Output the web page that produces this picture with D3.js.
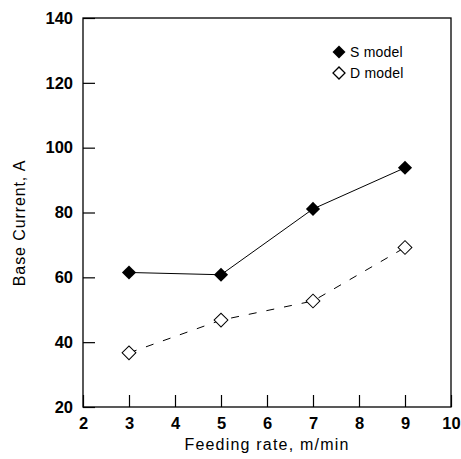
<!DOCTYPE html>
<html>
<head>
<meta charset="utf-8">
<script src="https://cdn.jsdelivr.net/npm/d3@7"></script>
<style>
  body { margin: 0; background: #fff; }
  text { font-family: Arial, "Liberation Sans", sans-serif; fill: #000; }
</style>
</head>
<body>
<script>
// data
const feedRate = [3, 5, 7, 9];
const sModel = [61.5, 60.8, 81.1, 93.8];
const dModel = [36.7, 46.8, 52.7, 69.2];
const xTicks = [2, 3, 4, 5, 6, 7, 8, 9, 10];
const yTicks = [20, 40, 60, 80, 100, 120, 140];

const w = 461, h = 459;
const plotL = 83, plotR = 451, plotT = 18, plotB = 407;

const svg = d3.select("body").append("svg")
  .attr("width", w).attr("height", h);

const x = d3.scaleLinear().domain([2, 10]).range([plotL, plotR]);
const y = d3.scaleLinear().domain([20, 140]).range([plotB, plotT]);

// frame
svg.append("rect")
  .attr("x", plotL).attr("y", plotT)
  .attr("width", plotR - plotL).attr("height", plotB - plotT)
  .attr("fill", "none").attr("stroke", "#000").attr("stroke-width", 1.3);

// axes, ticks inward
const xAxis = d3.axisBottom(x).tickValues(xTicks).tickSizeInner(-12).tickSizeOuter(0);
const yAxis = d3.axisLeft(y).tickValues(yTicks).tickSizeInner(-12).tickSizeOuter(0);

const gx = svg.append("g").attr("transform", `translate(0,${plotB})`).call(xAxis);
const gy = svg.append("g").attr("transform", `translate(${plotL},0)`).call(yAxis);
[gx, gy].forEach(g => {
  g.select(".domain").remove();
  g.selectAll(".tick line").attr("stroke", "#000").attr("stroke-width", 1.2);
  g.selectAll(".tick text")
    .style("font-size", "16.5px").style("font-weight", "bold")
    .attr("fill", "#000");
});
gx.selectAll(".tick text").attr("y", 10).attr("dy", "0.71em");
gy.selectAll(".tick text").attr("x", -10);

// axis titles
svg.append("text")
  .attr("x", (plotL + plotR) / 2).attr("y", 450)
  .attr("text-anchor", "middle")
  .style("font-size", "16px").style("letter-spacing", "1.2px")
  .text("Feeding rate, m/min");

svg.append("text")
  .attr("transform", `translate(25,223) rotate(-90)`)
  .attr("text-anchor", "middle")
  .style("font-size", "16px").style("letter-spacing", "0.9px")
  .text("Base Current, A");

// lines
const sPts = feedRate.map((d, i) => [d, sModel[i]]);
const dPts = feedRate.map((d, i) => [d, dModel[i]]);
const line = d3.line().x(d => x(d[0])).y(d => y(d[1]));

svg.append("path").datum(sPts).attr("d", line)
  .attr("fill", "none").attr("stroke", "#000").attr("stroke-width", 1);
svg.append("path").datum(dPts).attr("d", line)
  .attr("fill", "none").attr("stroke", "#000").attr("stroke-width", 1)
  .attr("stroke-dasharray", "8,10");

// markers
svg.selectAll(".s").data(sPts).join("path")
  .attr("transform", d => `translate(${x(d[0])},${y(d[1])}) rotate(45)`)
  .attr("d", d3.symbol().type(d3.symbolSquare).size(100))
  .attr("fill", "#000");
svg.selectAll(".d").data(dPts).join("path")
  .attr("transform", d => `translate(${x(d[0])},${y(d[1])}) rotate(45)`)
  .attr("d", d3.symbol().type(d3.symbolSquare).size(95))
  .attr("fill", "#fff").attr("stroke", "#000").attr("stroke-width", 1);

// legend
const legend = svg.append("g");
legend.append("path")
  .attr("transform", "translate(339,52) rotate(45)")
  .attr("d", d3.symbol().type(d3.symbolSquare).size(85))
  .attr("fill", "#000");
legend.append("path")
  .attr("transform", "translate(339,73) rotate(45)")
  .attr("d", d3.symbol().type(d3.symbolSquare).size(72))
  .attr("fill", "#fff").attr("stroke", "#000").attr("stroke-width", 1.3);
legend.append("text").attr("x", 350).attr("y", 57)
  .style("font-size", "14px").style("letter-spacing", "0.2px").text("S model");
legend.append("text").attr("x", 350).attr("y", 78)
  .style("font-size", "14px").style("letter-spacing", "0.2px").text("D model");
</script>
</body>
</html>
